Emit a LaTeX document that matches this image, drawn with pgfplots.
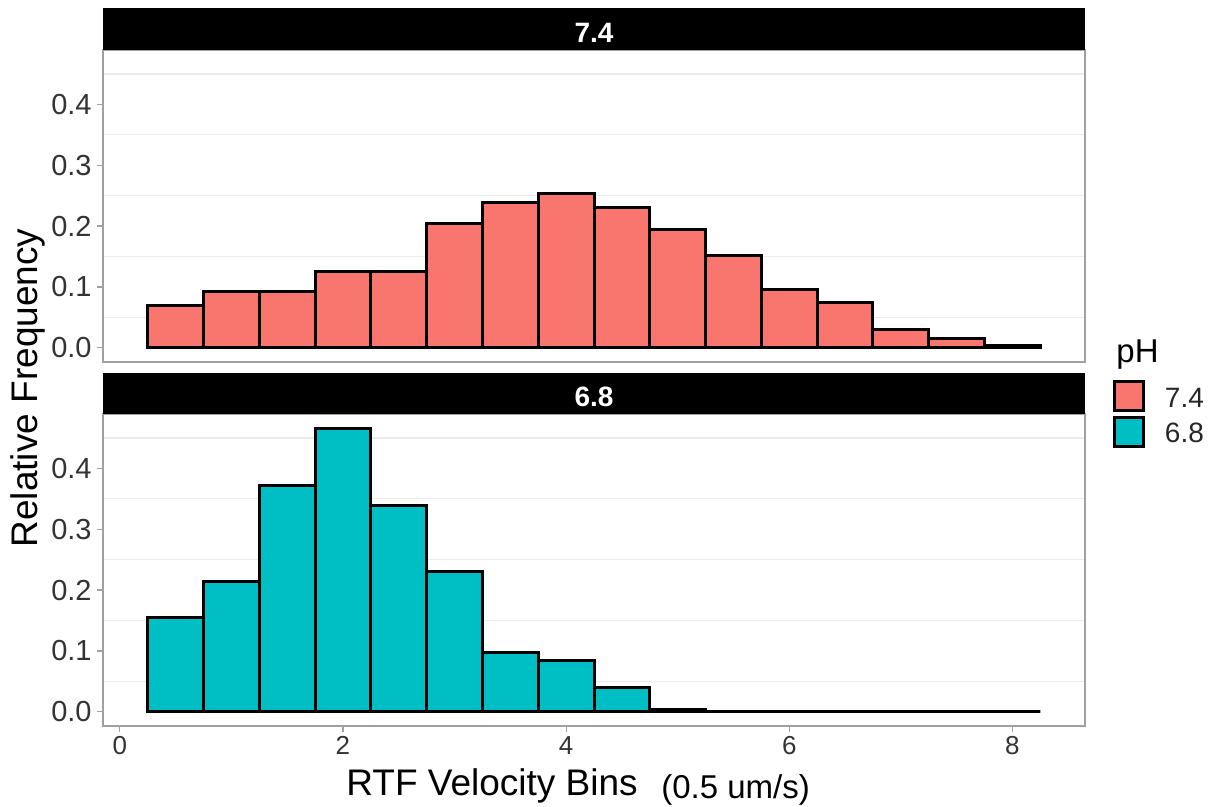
\documentclass[border=0pt]{standalone}
\usepackage{fontspec}
\setmainfont{Liberation Sans}
\usepackage{pgfplots}
\pgfplotsset{compat=1.18}
\usepackage{pgfplotstable}
\definecolor{salmon}{HTML}{F8766D}
\definecolor{tealc}{HTML}{00BFC4}
\definecolor{gridc}{HTML}{EBEBEB}
\definecolor{framec}{HTML}{A0A0A0}

\pgfplotstableread{
x a b
0.5 0.069 0.155
1.0 0.092 0.214
1.5 0.092 0.372
2.0 0.125 0.466
2.5 0.125 0.339
3.0 0.205 0.231
3.5 0.238 0.097
4.0 0.254 0.084
4.5 0.231 0.040
5.0 0.195 0.004
5.5 0.151 0.0005
6.0 0.095 0
6.5 0.075 0
7.0 0.030 0
7.5 0.016 0
8.0 0.003 0
}\datatable

\pgfplotsset{panel/.style={
  scale only axis, width=491bp, height=156bp,
  xmin=-0.15, xmax=8.65, ymin=-0.0233, ymax=0.4893,
  axis line style={framec, line width=0.6bp},
  tick style={framec, line width=0.6bp},
  tick align=outside, major tick length=3bp, minor tick length=0pt,
  ytick={0,0.1,0.2,0.3,0.4},
  minor ytick={0.05,0.15,0.25,0.35,0.45},
  yminorgrids, minor grid style={gridc, line width=0.6bp},
  /pgf/number format/assume math mode=true,
  yticklabel style={/pgf/number format/fixed, /pgf/number format/fixed zerofill, /pgf/number format/precision=1,
    font=\fontsize{14.5bp}{16bp}\selectfont, text=black!80, inner xsep=0pt, xshift=-2.5bp},
  ytick pos=left, xtick pos=bottom,
  ybar, bar width=0.5, bar shift=0pt,
  clip=false,
}}

\begin{document}
\begin{tikzpicture}
\useasboundingbox (0,0) rectangle (611bp,-403.5bp);

% top panel (pH 7.4)
\begin{axis}[panel, at={(51.5bp,-25bp)}, anchor=north west, xtick=\empty]
\addplot[fill=salmon, draw=black, line width=1.5bp] table[x=x, y=a] {\datatable};
\fill[black] (rel axis cs:0,1) rectangle ([yshift=21bp]rel axis cs:1,1);
\node[anchor=base, text=white, font=\bfseries\fontsize{14bp}{16bp}\selectfont] at ([yshift=4bp]rel axis cs:0.5,1) {7.4};
\end{axis}

% bottom panel (pH 6.8)
\begin{axis}[panel, at={(51.5bp,-207bp)}, anchor=north west,
  xtick={0,2,4,6,8},
  xticklabel style={font=\fontsize{13bp}{14bp}\selectfont, text=black!80, inner ysep=0pt, yshift=-2bp},
  legend style={at={(rel axis cs:1.0285,1.109)}, anchor=north west, draw=none, fill=none,
    inner sep=0pt, row sep=0pt, column sep=10bp,
    font=\fontsize{14bp}{16bp}\selectfont, text=black!85,
    nodes={inner sep=0pt, text height=10bp, text depth=4.5bp}},
  legend cell align=left]
\addplot[forget plot, fill=tealc, draw=black, line width=1.5bp] table[x=x, y=b] {\datatable};
\addlegendimage{legend image code/.code={\draw[fill=salmon, draw=black, line width=1.3bp] (0bp,-4.25bp) rectangle (14.5bp,10bp);}}
\addlegendentry{7.4}
\addlegendimage{legend image code/.code={\draw[fill=tealc, draw=black, line width=1.3bp] (0bp,-4.5bp) rectangle (14.5bp,10bp);}}
\addlegendentry{6.8}
\fill[black] (rel axis cs:0,1) rectangle ([yshift=20.5bp]rel axis cs:1,1);
\node[anchor=base, text=white, font=\bfseries\fontsize{14bp}{16bp}\selectfont] at ([yshift=4bp]rel axis cs:0.5,1) {6.8};
\end{axis}

\node[rotate=90, font=\fontsize{18.5bp}{20bp}\selectfont, text=black] at (14bp,-194bp) {Relative Frequency};
\node[anchor=base, font=\fontsize{18.5bp}{20bp}\selectfont, text=black] at (246bp,-397.5bp) {RTF Velocity Bins};
\node[anchor=base, font=\fontsize{16.5bp}{18bp}\selectfont, text=black] at (367.8bp,-399bp) {(0.5 um/s)};
\node[anchor=base west, font=\fontsize{16.5bp}{19bp}\selectfont, text=black, inner sep=0pt] at (558bp,-181bp) {pH};
\end{tikzpicture}
\end{document}
